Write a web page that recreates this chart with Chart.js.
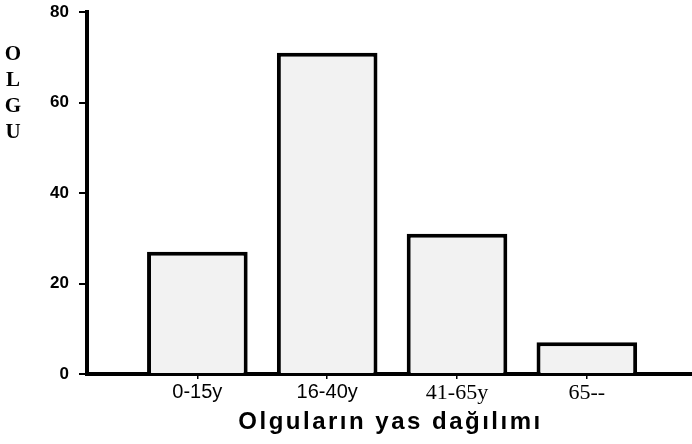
<!DOCTYPE html>
<html>
<head>
<meta charset="utf-8">
<script src="https://cdn.jsdelivr.net/npm/chart.js@4.4.1/dist/chart.umd.min.js"></script>
<style>
  html, body { margin: 0; padding: 0; background: #fff; }
</style>
</head>
<body>
<canvas id="chart" width="692" height="444"></canvas>
<script>
// data
const categories = ['0-15y', '16-40y', '41-65y', '65--'];
const caseCounts = [27, 71, 31, 7];
const yTicks = [0, 20, 40, 60, 80];
const yTitleLetters = ['O', 'L', 'G', 'U'];
const xTitle = 'Olguların yas dağılımı';

// bars sit on a linear x scale so the gap left of the first bar can match the original
const points = categories.map((c, i) => ({ x: i + 1, y: caseCounts[i] }));

// axis titles: the y one is stacked letter by letter, the x one is widely spaced
const axisTitles = {
    id: 'axisTitles',
    afterDraw(chart) {
        const { ctx, chartArea } = chart;
        ctx.save();
        ctx.fillStyle = '#000';
        ctx.textAlign = 'center';
        ctx.textBaseline = 'middle';
        ctx.font = 'bold 21px "Liberation Serif"';
        yTitleLetters.forEach((ch, i) => ctx.fillText(ch, 13, 55 + i * 26));
        ctx.font = 'bold 24px "Liberation Sans"';
        ctx.letterSpacing = '2.5px';
        ctx.fillText(xTitle, (chartArea.left + chartArea.right) / 2 + 1, 422);
        ctx.restore();
    }
};

new Chart(document.getElementById('chart').getContext('2d'), {
    type: 'bar',
    data: {
        datasets: [{
            data: points,
            backgroundColor: '#f2f2f2',
            borderColor: '#000',
            borderWidth: 4,
            categoryPercentage: 1,
            barPercentage: 0.775
        }]
    },
    options: {
        responsive: false,
        animation: false,
        layout: { padding: { top: 12, right: 0, bottom: 0, left: 0 } },
        plugins: {
            legend: { display: false },
            tooltip: { enabled: false }
        },
        scales: {
            x: {
                type: 'linear',
                offset: false,
                min: 0.15,
                max: 4.81,
                afterBuildTicks: scale => { scale.ticks = categories.map((c, i) => ({ value: i + 1 })); },
                afterFit: scale => { scale.height = 70; scale.paddingLeft = 0; scale.paddingRight = 0; },
                border: { color: '#000', width: 4 },
                grid: { offset: false, drawOnChartArea: false, color: '#000', lineWidth: 1.5, tickLength: 5 },
                ticks: {
                    color: '#000',
                    padding: 1,
                    maxRotation: 0,
                    callback: (value) => categories[value - 1],
                    // first two labels are sans, the last two serif in the original
                    font: ctx => ctx.index < 2
                        ? { family: '"Liberation Sans"', size: 20 }
                        : { family: '"Liberation Serif"', size: 22 }
                }
            },
            y: {
                min: 0,
                max: 80,
                afterBuildTicks: scale => { scale.ticks = yTicks.map(v => ({ value: v })); },
                afterFit: scale => { scale.width = 87; scale.paddingTop = 0; scale.paddingBottom = 0; },
                border: { color: '#000', width: 4 },
                grid: { drawOnChartArea: false, color: '#000', lineWidth: 2, tickLength: 8 },
                ticks: {
                    color: '#000',
                    padding: 10,
                    font: { family: '"Liberation Sans"', size: 17, weight: 'bold' }
                }
            }
        }
    },
    plugins: [axisTitles]
});
</script>
</body>
</html>
